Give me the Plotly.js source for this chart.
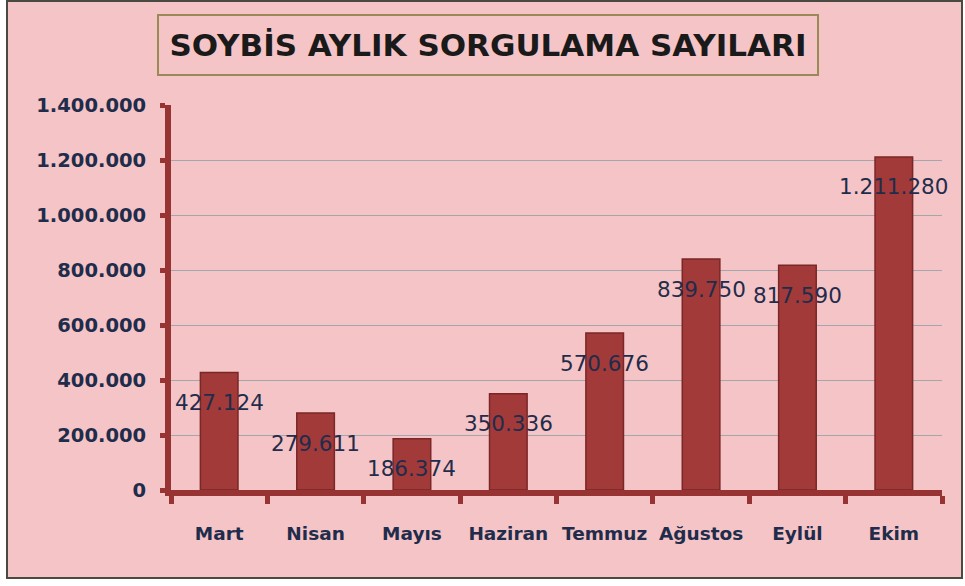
<!DOCTYPE html>
<html>
<head>
<meta charset="utf-8">
<script src="https://cdn.plot.ly/plotly-3.0.1.min.js"></script>
<style>html,body{margin:0;padding:0;background:#fff;}#chart{width:965px;height:586px;}</style>
</head>
<body>
<div id="chart"></div>
<script>
// Data
const months = ["Mart", "Nisan", "Mayıs", "Haziran", "Temmuz", "Ağustos", "Eylül", "Ekim"];
const queries = [427124, 279611, 186374, 350336, 570676, 839750, 817590, 1211280];
const yTickVals = [0, 200000, 400000, 600000, 800000, 1000000, 1200000, 1400000];
const titleText = "SOYBİS AYLIK SORGULAMA SAYILARI";

function fmtTR(v) {
  return String(v).replace(/\B(?=(\d{3})+(?!\d))/g, ".");
}

const navy = "#1f2c4b";
const axisRed = "#983333";

const trace = {
  type: "bar",
  x: months,
  y: queries,
  width: 0.39,
  marker: { color: "#a23a3a", line: { color: "#7a2727", width: 1.5 } },
  hoverinfo: "x+y"
};

const labelAnnotations = months.map((m, i) => ({
  x: m, y: queries[i], xref: "x", yref: "y",
  text: fmtTR(queries[i]), showarrow: false,
  yshift: -30,
  font: { family: "DejaVu Sans", size: 21.5, color: navy }
}));

const layout = {
  width: 965, height: 586,
  margin: { l: 171, r: 23, t: 105, b: 96 },
  paper_bgcolor: "#ffffff",
  plot_bgcolor: "rgba(0,0,0,0)",
  separators: ",.",
  showlegend: false,
  xaxis: {
    type: "category",
    range: [-0.5, months.length - 0.5],
    showgrid: false,
    showline: true, linecolor: axisRed, linewidth: 6,
    ticks: "outside", tickson: "boundaries", ticklen: 8, tickwidth: 5, tickcolor: axisRed,
    ticklabelstandoff: 22,
    tickangle: 0,
    tickfont: { family: "DejaVu Sans", size: 18.5, weight: "bold", color: navy },
    zeroline: false,
    fixedrange: true
  },
  yaxis: {
    range: [0, 1400000],
    tickvals: yTickVals,
    ticktext: yTickVals.map(fmtTR),
    showgrid: true, gridcolor: "#a3a6ab", gridwidth: 1,
    showline: true, linecolor: axisRed, linewidth: 6,
    ticks: "outside", ticklen: 5, tickwidth: 5, tickcolor: axisRed,
    ticklabelstandoff: 10,
    tickfont: { family: "DejaVu Sans", size: 19.5, weight: "bold", color: navy },
    zeroline: false,
    fixedrange: true
  },
  shapes: [
    {
      type: "rect", xref: "paper", yref: "paper", layer: "below",
      x0: (7 - 171) / 771, x1: (962 - 171) / 771,
      y0: (490 - 578) / 385, y1: (490 - 1) / 385,
      fillcolor: "#f5c4c6",
      line: { color: "#4a4a42", width: 2 }
    }
  ],
  annotations: [
    {
      xref: "paper", yref: "paper",
      x: (488 - 171) / 771, y: (490 - 45) / 385,
      xanchor: "center", yanchor: "middle",
      text: titleText, showarrow: false,
      width: 656, height: 56,
      bgcolor: "#f5c4c6",
      bordercolor: "#9c8a56", borderwidth: 2,
      font: { family: "DejaVu Sans", size: 31, weight: "bold", color: "#1a1a1a" }
    }
  ].concat(labelAnnotations)
};

Plotly.newPlot("chart", [trace], layout, { displayModeBar: false, staticPlot: true });
</script>
</body>
</html>
